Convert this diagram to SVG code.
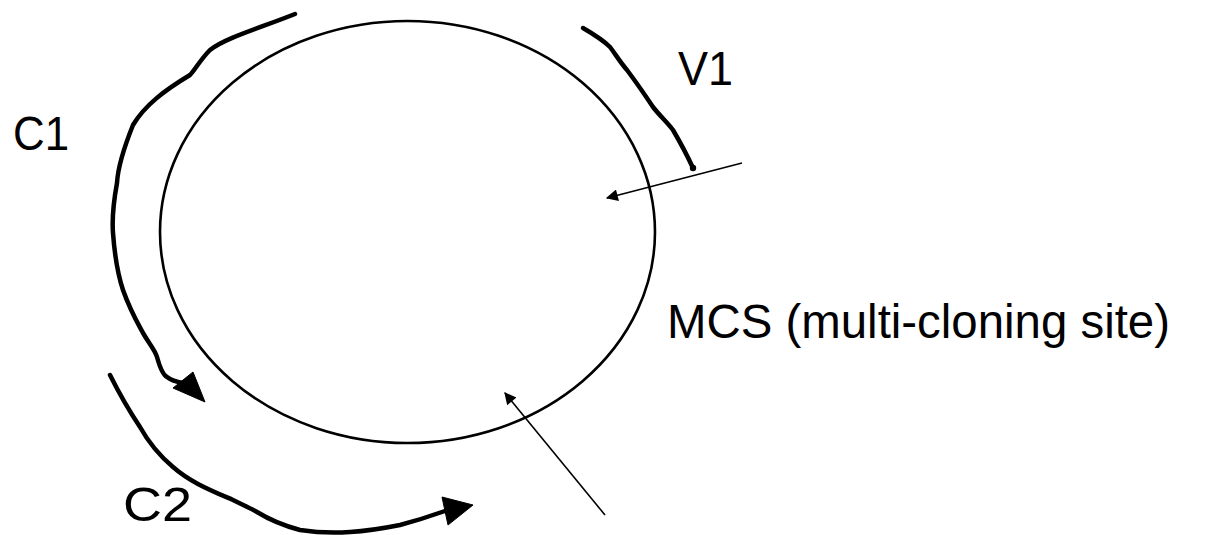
<svg xmlns="http://www.w3.org/2000/svg" width="1220" height="535" viewBox="0 0 1220 535">
<style>
.lbl{font-family:"Liberation Sans",Arial,sans-serif;font-size:48px;fill:#000}
.thick{fill:none;stroke:#000;stroke-width:4.5;stroke-linecap:round;stroke-linejoin:round}
.thin{fill:none;stroke:#000;stroke-width:1.6}
.head{fill:#000;stroke:#000;stroke-width:1;stroke-linejoin:round}
</style>
<defs>
<marker id="ah" viewBox="0 0 10 10" refX="9" refY="5" markerWidth="10" markerHeight="8" markerUnits="userSpaceOnUse" orient="auto">
<path d="M0,0 L10,5 L0,10 z" fill="#000"/>
</marker>
<marker id="ah2" viewBox="0 0 10 10" refX="9" refY="5" markerWidth="18" markerHeight="12" markerUnits="userSpaceOnUse" orient="auto">
<path d="M0,0 L10,5 L0,10 z" fill="#000"/>
</marker>
</defs>
<rect width="1220" height="535" fill="#fff"/>
<g id="plasmid">
<ellipse cx="407.5" cy="232" rx="247.5" ry="211" fill="none" stroke="#000" stroke-width="2.6"/>
</g>
<g id="connectors">
<g id="c1-arrow">
<path class="thick" d="M295,14 C260,28 225,38 210,50 C200,60 195,70 190,75 C165,90 145,105 133,125 C125,145 118,165 117,183 C113,205 112,220 113,233 C115,260 118,275 123,290 C130,310 137,322 143,333 C150,345 155,350 157,357 C160,368 163,375 167,377 C172,381 177,382 183,383"/>
<path class="head" d="M205,402 L173,388 L193,372 z"/>
</g>
<g id="c2-arrow">
<path class="thick" d="M110,375 C120,395 130,412 140,427 C150,445 160,456 173,467 C190,482 210,490 233,500 C243,505 250,508 257,512 C270,520 285,526 300,530 C320,533 335,533 350,532 C368,531 385,528 400,525 C415,521 428,517 445,511"/>
<path class="head" d="M473,505 L442,497 L448,525 z"/>
</g>
<g id="v1-arrow">
<path class="thick" d="M583,28 C595,35 603,40 610,47 C616,55 620,62 627,70 C636,82 645,95 653,107 C660,116 667,122 673,130 C680,142 687,155 693,168"/>
<circle cx="693" cy="168" r="3.2" fill="#000"/>
</g>
<line id="v1-pointer" class="thin" x1="742" y1="163" x2="607" y2="198" marker-end="url(#ah2)"/>
<line id="mcs-pointer" class="thin" x1="605" y1="515" x2="505" y2="393" marker-end="url(#ah2)"/>
</g>
<g id="labels">
<text class="lbl" x="13" y="150" textLength="56" lengthAdjust="spacingAndGlyphs">C1</text>
<text class="lbl" x="678" y="85" textLength="55" lengthAdjust="spacingAndGlyphs">V1</text>
<text class="lbl" x="123" y="521" textLength="69" lengthAdjust="spacingAndGlyphs">C2</text>
<text class="lbl" x="667" y="338" textLength="503" lengthAdjust="spacingAndGlyphs">MCS (multi-cloning site)</text>
</g>
</svg>
